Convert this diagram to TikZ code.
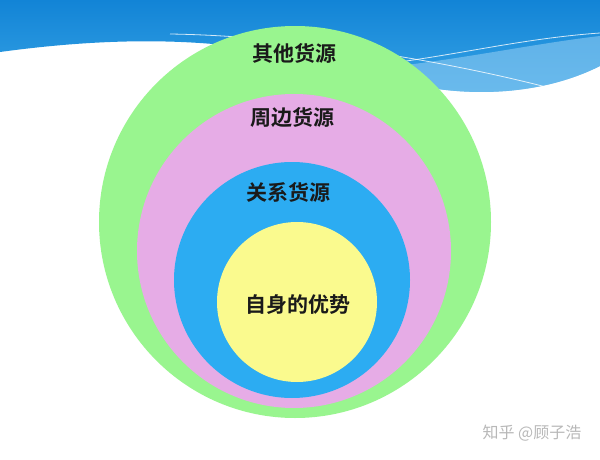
\documentclass[tikz,border=0pt]{standalone}
\usepackage{fontspec}
\newfontfamily\cjk{Noto Sans CJK SC}[BoldFont={Noto Sans CJK SC Bold}]
\definecolor{skytop}{RGB}{18,132,214}
\definecolor{skybot}{RGB}{56,164,230}
\definecolor{skylight}{RGB}{140,202,242}
\definecolor{ringgreen}{RGB}{153,245,143}
\definecolor{ringpink}{RGB}{230,172,230}
\definecolor{ringblue}{RGB}{44,172,242}
\definecolor{ringyellow}{RGB}{250,250,142}
\definecolor{inktext}{RGB}{26,26,26}
\tikzset{
  ring/.style={circle,draw=none,inner sep=0pt},
  tag/.style={font=\cjk\bfseries\fontsize{21}{25}\selectfont,text=inktext}
}
\begin{document}
\begin{tikzpicture}[x=1pt,y=-1pt]
            \useasboundingbox (0,0) rectangle (600,460);
            \fill[white] (0,0) rectangle (600,460);
            % wave on top
            \path[top color=skytop,bottom color=skybot] (0,0) -- (600,0) -- (600,66)
                .. controls (540,96) and (470,96) .. (420,86)
                .. controls (320,62) and (220,22) .. (0,52) -- cycle;
            \fill[skylight,opacity=0.6] (360,70) .. controls (450,62) and (530,44) .. (600,36) -- (600,66)
                .. controls (540,96) and (470,96) .. (420,86) .. controls (400,80) and (380,75) .. (360,70);
            \draw[white,opacity=0.8,line width=0.8pt] (170,34) .. controls (300,36) and (450,62) .. (550,88);
            \draw[white,opacity=0.8,line width=0.8pt] (310,70) .. controls (420,66) and (500,40) .. (600,33);
            % circles
            \node[ring,fill=ringgreen,minimum size=392pt] (other) at (295,222) {};
            \node[ring,fill=ringpink,minimum size=314pt] (near) at (294,251) {};
            \node[ring,fill=ringblue,minimum size=236pt] (link) at (292,280) {};
            \node[ring,fill=ringyellow,minimum size=160pt] (self) at (297,302) {};
            \node[tag] (otherlbl) at (294,53) {其他货源};
            \node[tag] (nearlbl) at (292,118) {周边货源};
            \node[tag] (linklbl) at (288,192) {关系货源};
            \node[tag] (selflbl) at (298,305) {自身的优势};
            \node[font=\cjk\fontsize{16}{19}\selectfont,text=black!28] (mark) at (532,433) {知乎 @顾子浩};
        \end{tikzpicture}
\end{document}
